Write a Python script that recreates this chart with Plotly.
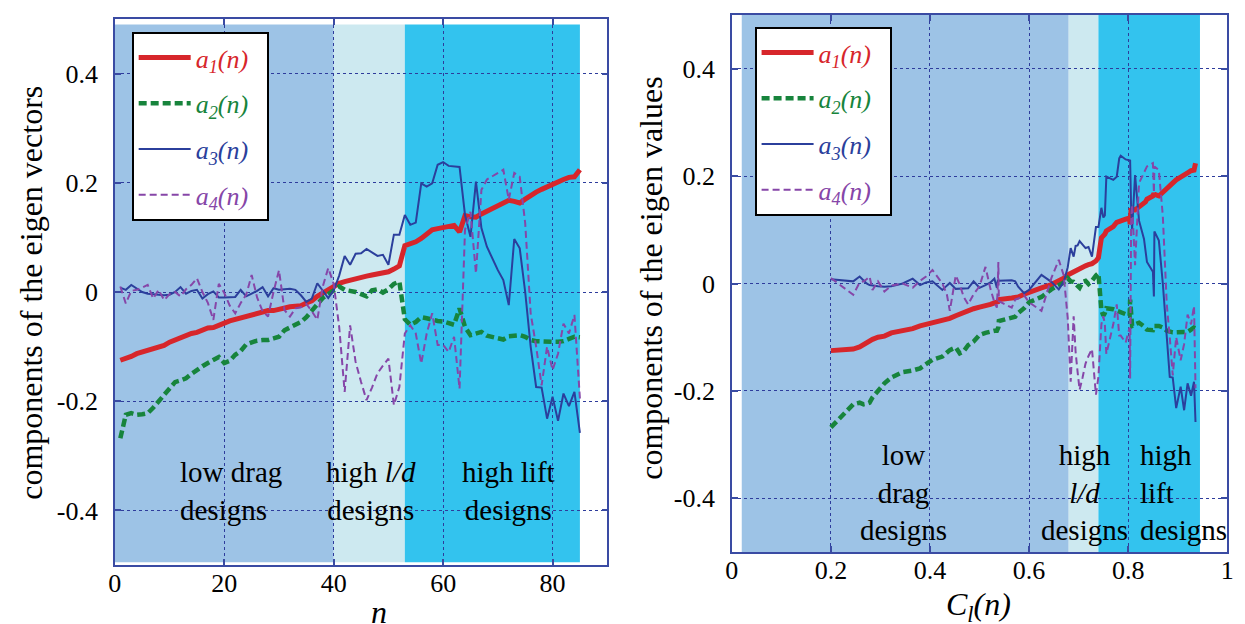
import plotly.graph_objects as go

# ---------------- data ----------------
n = list(range(1, 86))

a1 = [-0.125, -0.122, -0.118, -0.113, -0.110, -0.107, -0.104, -0.100, -0.098, -0.092,
      -0.088, -0.084, -0.079, -0.076, -0.074, -0.070, -0.066, -0.065, -0.060, -0.057,
      -0.053, -0.050, -0.047, -0.044, -0.042, -0.039, -0.036, -0.034, -0.034, -0.031,
      -0.030, -0.027, -0.026, -0.025, -0.020, -0.016, -0.008, -0.002, 0.004, 0.010,
      0.016, 0.019, 0.022, 0.025, 0.027, 0.029, 0.031, 0.033, 0.035, 0.037,
      0.042, 0.048, 0.085, 0.088, 0.092, 0.098, 0.106, 0.114, 0.116, 0.118,
      0.120, 0.122, 0.110, 0.140, 0.138, 0.137, 0.143, 0.148, 0.152, 0.157,
      0.163, 0.168, 0.166, 0.163, 0.170, 0.177, 0.183, 0.188, 0.193, 0.198,
      0.203, 0.206, 0.210, 0.211, 0.224]

a2 = [-0.268, -0.225, -0.222, -0.225, -0.224, -0.222, -0.212, -0.200, -0.186, -0.175,
      -0.165, -0.162, -0.158, -0.150, -0.142, -0.136, -0.130, -0.124, -0.119, -0.130,
      -0.126, -0.115, -0.108, -0.096, -0.092, -0.089, -0.088, -0.088, -0.085, -0.082,
      -0.070, -0.065, -0.062, -0.055, -0.046, -0.035, -0.025, -0.011, -0.004, 0.002,
      0.010, 0.004, 0.003, 0.000, -0.004, -0.008, 0.003, 0.005, -0.001, 0.005,
      0.015, 0.019, -0.050, -0.060, -0.055, -0.046, -0.048, -0.051, -0.053, -0.054,
      -0.057, -0.060, -0.030, -0.064, -0.079, -0.076, -0.073, -0.080, -0.082, -0.086,
      -0.087, -0.081, -0.079, -0.079, -0.082, -0.088, -0.090, -0.091, -0.091, -0.091,
      -0.091, -0.090, -0.086, -0.082, -0.083]

a3 = [0.008, 0.004, 0.013, 0.006, 0.000, -0.003, -0.004, -0.005, -0.006, -0.005,
      0.000, 0.009, -0.003, 0.002, 0.004, -0.012, -0.004, 0.001, -0.010, -0.010,
      -0.010, -0.009, 0.004, -0.008, -0.003, 0.002, 0.009, -0.008, 0.007, 0.004,
      0.005, 0.006, 0.004, -0.006, -0.018, -0.012, 0.016, 0.003, -0.011, 0.003,
      0.030, 0.066, 0.050, 0.070, 0.071, 0.079, 0.072, 0.066, 0.068, 0.050,
      0.105, 0.105, 0.141, 0.123, 0.127, 0.199, 0.193, 0.199, 0.233, 0.238,
      0.231, 0.230, 0.229, 0.141, 0.101, 0.202, 0.117, 0.083, 0.060, 0.040,
      0.022, -0.024, 0.097, 0.080, 0.000, -0.100, -0.174, -0.175, -0.232, -0.192,
      -0.236, -0.186, -0.209, -0.183, -0.258]

a4 = [0.010, -0.021, 0.002, 0.004, 0.008, 0.013, -0.012, 0.004, -0.015, -0.004,
      0.000, -0.008, 0.005, 0.013, 0.025, 0.000, -0.020, -0.051, 0.015, -0.002,
      -0.025, -0.039, -0.020, -0.005, 0.031, -0.010, -0.035, -0.045, 0.000, 0.040,
      -0.033, -0.045, -0.030, -0.028, -0.022, -0.035, -0.051, 0.010, 0.044, 0.015,
      -0.064, -0.183, -0.061, -0.128, -0.165, -0.198, -0.175, -0.149, -0.135, -0.122,
      -0.207, -0.174, -0.076, -0.061, -0.076, -0.131, -0.076, -0.039, -0.097, -0.097,
      -0.110, -0.082, -0.177, 0.114, 0.147, 0.034, 0.187, 0.206, 0.212, 0.218,
      0.224, 0.169, 0.218, 0.211, 0.126, -0.039, -0.100, -0.171, -0.100, -0.143,
      -0.113, -0.058, -0.076, -0.042, -0.195]

# lift coefficient of each design (x of the right panel)
cl = [0.200, 0.245, 0.258, 0.266, 0.272, 0.278, 0.284, 0.295, 0.308, 0.322,
      0.345, 0.365, 0.380, 0.392, 0.405, 0.425, 0.434, 0.440, 0.452, 0.460,
      0.468, 0.477, 0.488, 0.500, 0.512, 0.522, 0.530, 0.535, 0.537, 0.538,
      0.539, 0.565, 0.572, 0.578, 0.590, 0.600, 0.625, 0.645, 0.660, 0.670,
      0.678, 0.684, 0.690, 0.694, 0.698, 0.702, 0.708, 0.714, 0.720, 0.727,
      0.735, 0.740, 0.746, 0.750, 0.753, 0.756, 0.770, 0.777, 0.782, 0.785,
      0.795, 0.803, 0.804, 0.806, 0.808, 0.814, 0.822, 0.832, 0.835, 0.838,
      0.850, 0.852, 0.853, 0.862, 0.870, 0.878, 0.884, 0.890, 0.897, 0.906,
      0.913, 0.920, 0.927, 0.933, 0.936]

series_names = ["a1", "a2", "a3", "a4"]
series_labels = ["1", "2", "3", "4"]

# design regions (low drag / high l/d / high lift)
region_edges_n = [0, 40, 53, 85]
region_edges_cl = [0.02, 0.68, 0.74, 0.945]
region_span_left = [-0.495, 0.49]
region_span_right = [-0.5, 0.5]

left_xticks = [0, 20, 40, 60, 80]
left_xtext = ["0", "20", "40", "60", "80"]
right_xticks = [0, 0.2, 0.4, 0.6, 0.8, 1]
right_xtext = ["0", "0.2", "0.4", "0.6", "0.8", "1"]
yticks = [-0.4, -0.2, 0, 0.2, 0.4]
ytext = ["-0.4", "-0.2", "0", "0.2", "0.4"]

# ---------------- styles ----------------
W, H = 1245, 624
OFF = 8  # page body margin
SERIF = "Liberation Serif"
AX = "#3A4BA3"
GRID = "#2E3C9C"
colors = ["#D7262B", "#17843C", "#2B3F9C", "#8646A8"]
widths = [5, 4.5, 2, 2]
dashes = ["solid", "8px,4px", "solid", "7px,4px"]
region_colors = ["#9DC3E6", "#CDE9F0", "#33C3EE"]


def px_x(p):
    return (p - OFF) / W


def px_y(p):
    return 1 - (p - OFF) / H


fig = go.Figure()

series = [a1, a2, a3, a4]
for i, s in enumerate(series):
    label = ('<span style="color:%s"><i>a<sub>%s</sub>(n)</i></span>&nbsp;&nbsp;'
             % (colors[i], series_labels[i]))
    fig.add_trace(go.Scatter(
        x=n, y=s, mode="lines", name=label, xaxis="x", yaxis="y",
        line=dict(color=colors[i], width=widths[i], dash=dashes[i]),
        legend="legend", legendgroup="L" + series_names[i]))
for i, s in enumerate(series):
    label = ('<span style="color:%s"><i>a<sub>%s</sub>(n)</i></span>&nbsp;&nbsp;'
             % (colors[i], series_labels[i]))
    fig.add_trace(go.Scatter(
        x=cl, y=s, mode="lines", name=label, xaxis="x2", yaxis="y2",
        line=dict(color=colors[i], width=widths[i], dash=dashes[i]),
        legend="legend2", legendgroup="R" + series_names[i]))

shapes = []
for k in range(3):
    shapes.append(dict(type="rect", xref="x", yref="y", layer="below",
                       x0=region_edges_n[k], x1=region_edges_n[k + 1],
                       y0=region_span_left[0], y1=region_span_left[1],
                       fillcolor=region_colors[k], line=dict(width=0)))
    shapes.append(dict(type="rect", xref="x2", yref="y2", layer="below",
                       x0=region_edges_cl[k], x1=region_edges_cl[k + 1],
                       y0=region_span_right[0], y1=region_span_right[1],
                       fillcolor=region_colors[k], line=dict(width=0)))

tfont = dict(family=SERIF, size=26, color="black")


def xaxis(domain, rng, tv, tt, anchor):
    return dict(domain=domain, range=rng, tickvals=tv, ticktext=tt, anchor=anchor,
                showline=True, linecolor=AX, linewidth=1.5, mirror="ticks",
                ticks="inside", ticklen=6, tickcolor=AX, tickwidth=1.5,
                showgrid=True, gridcolor=GRID, griddash="dot", gridwidth=1,
                zeroline=False, tickfont=tfont, ticklabelstandoff=-6)


def yaxis(domain, tv, tt, anchor):
    return dict(domain=domain, range=[-0.5, 0.5], tickvals=tv, ticktext=tt, anchor=anchor,
                showline=True, linecolor=AX, linewidth=1.5, mirror="ticks",
                ticks="inside", ticklen=6, tickcolor=AX, tickwidth=1.5,
                showgrid=True, gridcolor=GRID, griddash="dot", gridwidth=1,
                zeroline=False, tickfont=tfont, ticklabelstandoff=10)


lfont = dict(family=SERIF, size=29, color="black")
tl = dict(family=SERIF, size=32, color="black")
ann = [
    # region labels, left
    dict(xref="x", yref="y", x=11.6, y=-0.365, xanchor="left", yanchor="middle",
         align="left", text="low drag<br>designs", showarrow=False, font=lfont),
    dict(xref="x", yref="y", x=46.8, y=-0.365, xanchor="center", yanchor="middle",
         text="high <i>l/d</i><br>designs", showarrow=False, font=lfont),
    dict(xref="x", yref="y", x=72, y=-0.365, xanchor="center", yanchor="middle",
         text="high lift<br>designs", showarrow=False, font=lfont),
    # region labels, right
    dict(xref="x2", yref="y2", x=0.347, y=-0.39, xanchor="center", yanchor="middle",
         text="low<br>drag<br>designs", showarrow=False, font=lfont),
    dict(xref="x2", yref="y2", x=0.712, y=-0.39, xanchor="center", yanchor="middle",
         text="high<br><i>l/d</i><br>designs", showarrow=False, font=lfont),
    dict(xref="x2", yref="y2", x=0.82, y=-0.39, xanchor="left", yanchor="middle",
         align="left", text="high<br>lift<br>designs", showarrow=False, font=lfont),
    # axis titles
    dict(xref="paper", yref="paper", x=px_x(24), y=px_y(293), textangle=-90,
         xanchor="center", yanchor="middle",
         text="components of the eigen vectors", showarrow=False, font=tl),
    dict(xref="paper", yref="paper", x=px_x(651), y=px_y(278), textangle=-90,
         xanchor="center", yanchor="middle",
         text="components of the eigen values", showarrow=False, font=tl),
    dict(xref="paper", yref="paper", x=px_x(376), y=px_y(612), text="<i>n</i>",
         xanchor="center", yanchor="middle", showarrow=False, font=tl),
    dict(xref="paper", yref="paper", x=px_x(982), y=px_y(606),
         xanchor="center", yanchor="middle",
         text="<i>C<sub>l</sub>(n)</i>", showarrow=False, font=tl),
]

legfont = dict(family=SERIF, size=26)
fig.update_layout(
    width=W, height=H,
    margin=dict(l=0, r=0, t=0, b=0),
    paper_bgcolor="white", plot_bgcolor="white",
    xaxis=xaxis([px_x(109), px_x(607)], [0, 90], left_xticks, left_xtext, "y"),
    yaxis=yaxis([px_y(565), px_y(19)], yticks, ytext, "x"),
    xaxis2=xaxis([px_x(733), px_x(1234)], [0, 1], right_xticks, right_xtext, "y2"),
    yaxis2=yaxis([px_y(552), px_y(15)], yticks, ytext, "x2"),
    shapes=shapes,
    annotations=ann,
    legend=dict(x=px_x(126), y=px_y(32), xanchor="left", yanchor="top",
                bgcolor="white", bordercolor="black", borderwidth=2,
                font=legfont, tracegroupgap=9, itemwidth=52),
    legend2=dict(x=px_x(756), y=px_y(27), xanchor="left", yanchor="top",
                 bgcolor="white", bordercolor="black", borderwidth=2,
                 font=legfont, tracegroupgap=9, itemwidth=52),
    showlegend=True,
)

fig.write_html("out.html")
